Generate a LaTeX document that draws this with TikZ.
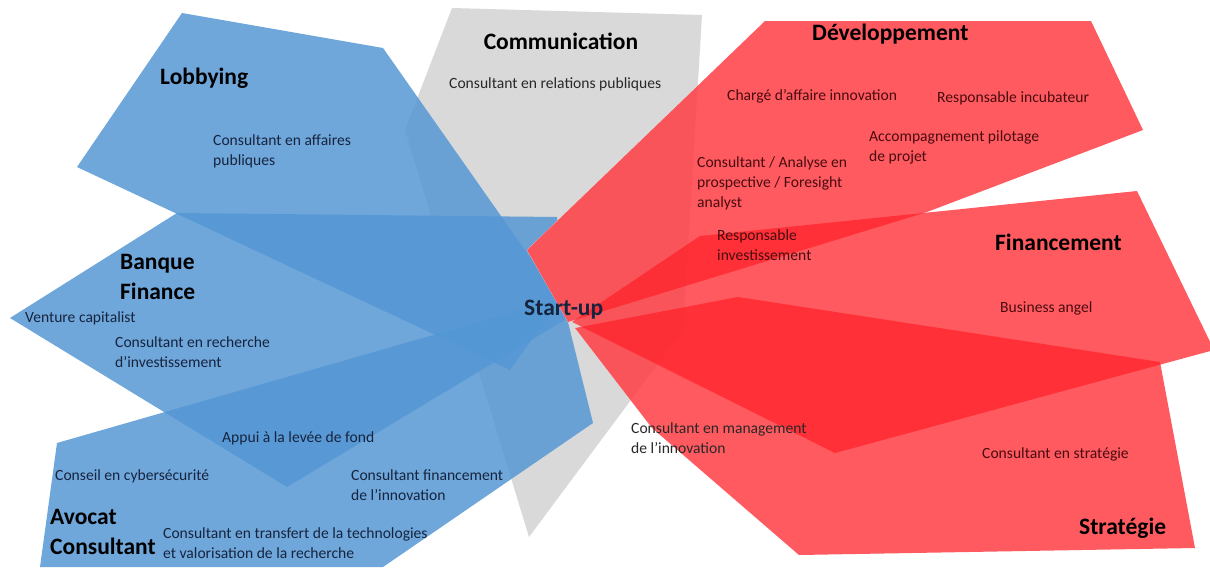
\documentclass[tikz,border=0pt]{standalone}
\usepackage{fontspec}
\setmainfont{Carlito}
\definecolor{greyc}{RGB}{217,217,217}
\definecolor{greyu}{RGB}{234,234,234}
\definecolor{bluec}{RGB}{84,151,213}
\definecolor{redc}{RGB}{255,35,42}
\definecolor{bluetxt}{RGB}{22,36,62}
\definecolor{redtxt}{RGB}{72,12,16}
\definecolor{greytxt}{RGB}{40,40,40}
\newcommand\pGrey{(452,8) -- (702,15) -- (683,330) -- (529,537) -- (405,130) -- cycle}
\newcommand\pLob{(182,13) -- (383,48) -- (560,300) -- (510,370) -- (77,167) -- cycle}
\newcommand\pBan{(10,318) -- (177,213) -- (557,217) -- (568,318) -- (287,487) -- cycle}
\newcommand\pAvo{(57,443) -- (562,298) -- (593,423) -- (383,567) -- (40,567) -- cycle}
\newcommand\pDev{(527,250) -- (765,21) -- (1091,21) -- (1143,130) -- (927,212) -- (568,322) -- cycle}
\newcommand\pFin{(572,322) -- (700,236) -- (1137,191) -- (1214,350) -- (835,453) -- cycle}
\newcommand\pStr{(575,328) -- (738,297) -- (1160,362) -- (1195,548) -- (799,555) -- (652,428) -- cycle}
\begin{document}
\begin{tikzpicture}[x=1pt,y=-1pt,
  bluefill/.style={fill=bluec, fill opacity=0.84},
  redfill/.style={fill=redc, fill opacity=0.75},
  head/.style={font=\fontsize{23.5}{29.5}\selectfont\bfseries, text=black, inner sep=0, align=left},
  item/.style={font=\fontsize{15.6}{20}\selectfont, align=left, inner sep=0},
  bitem/.style={item, text=bluetxt},
  ritem/.style={item, text=redtxt},
  gitem/.style={item, text=greytxt}]
\useasboundingbox (0,0) rectangle (1210,570);
\fill[white] (0,0) rectangle (1210,570);
% grey sector
\fill[greyc] \pGrey;
% blue sectors
\fill[bluefill] \pLob;
\fill[bluefill] \pBan;
\fill[bluefill] \pAvo;
% knock out under the red sectors
\fill[white] \pDev;
\fill[white] \pFin;
\fill[white] \pStr;
\begin{scope}\clip \pDev; \fill[greyu] \pGrey;\end{scope}
\begin{scope}\clip \pFin; \fill[greyu] \pGrey;\end{scope}
\begin{scope}\clip \pStr; \fill[greyu] \pGrey;\end{scope}
% red sectors
\fill[redfill] \pDev;
\fill[redfill] \pFin;
\fill[redfill] \pStr;
% headings
\node[head, anchor=west] (lob) at (160,78) {Lobbying};
\node[head] (com) at (561,41) {Communication};
\node[head, anchor=west] (dev) at (812,34) {Développement};
\node[head, anchor=west] (fin) at (995,242) {Financement};
\node[head, anchor=west, text=bluetxt] (su) at (524,310) {Start-up};
\node[head, anchor=west] (ban) at (120,277) {Banque\\Finance};
\node[head, anchor=west] (avo) at (50,532) {Avocat\\Consultant};
\node[head, anchor=west] (str) at (1079,528) {Stratégie};
% grey items
\node[gitem, anchor=west] (g1) at (449,84) {Consultant en relations publiques};
\node[gitem, anchor=west] (g2) at (631,438) {Consultant en management\\de l’innovation};
% blue items
\node[bitem, anchor=west] (b1) at (213,151) {Consultant en affaires\\publiques};
\node[bitem, anchor=west] (b2) at (25,318) {Venture capitalist};
\node[bitem, anchor=west] (b3) at (115,352) {Consultant en recherche\\d’investissement};
\node[bitem, anchor=west] (b4) at (222,438) {Appui à la levée de fond};
\node[bitem, anchor=west] (b5) at (55,476) {Conseil en cybersécurité};
\node[bitem, anchor=west] (b6) at (351,485) {Consultant financement\\de l’innovation};
\node[bitem, anchor=west] (b7) at (163,543) {Consultant en transfert de la technologies\\et valorisation de la recherche};
% red items
\node[ritem, anchor=west] (r1) at (727,96) {Chargé d’affaire innovation};
\node[ritem, anchor=west] (r2) at (937,98) {Responsable incubateur};
\node[ritem, anchor=west] (r3) at (869,147) {Accompagnement pilotage\\de projet};
\node[ritem, anchor=west] (r4) at (697,183) {Consultant / Analyse en\\prospective / Foresight\\analyst};
\node[ritem, anchor=west] (r5) at (717,245) {Responsable\\investissement};
\node[ritem, anchor=west] (r6) at (1000,308) {Business angel};
\node[ritem, anchor=west] (r7) at (982,454) {Consultant en stratégie};
\end{tikzpicture}
\end{document}
